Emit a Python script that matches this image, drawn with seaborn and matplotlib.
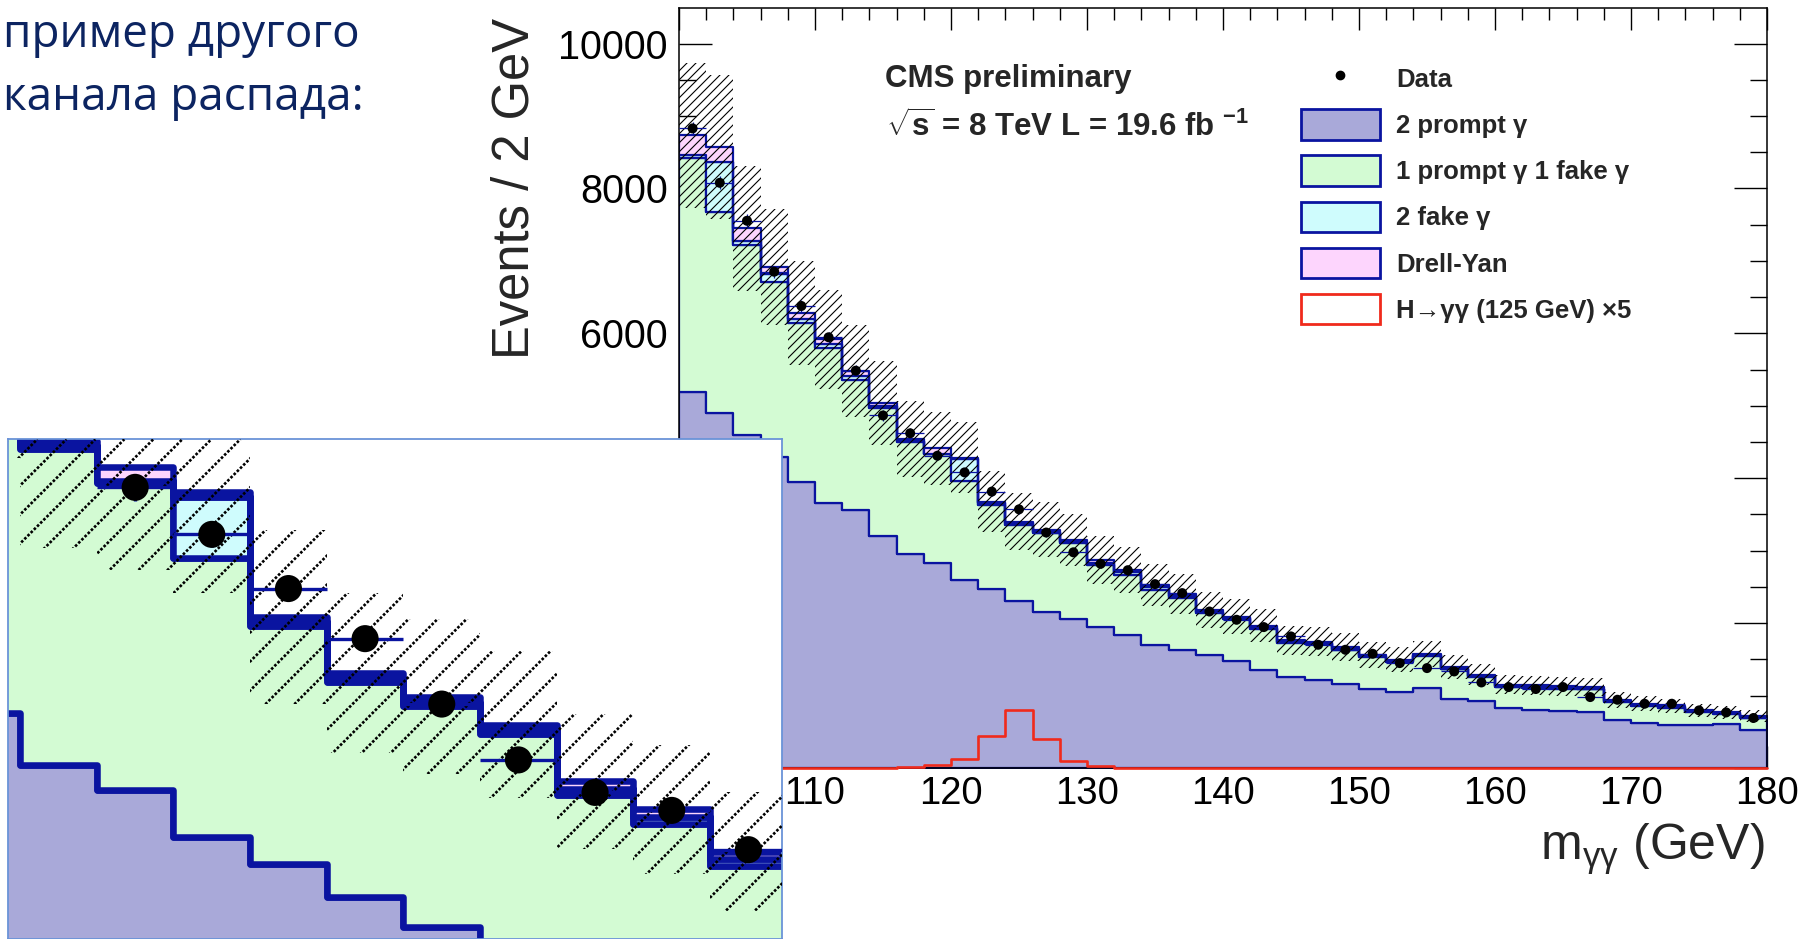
import numpy as np
import pandas as pd
import matplotlib
matplotlib.use("Agg")
import matplotlib.pyplot as plt
import seaborn as sns
from matplotlib.patches import Patch
from matplotlib.lines import Line2D
from matplotlib.collections import LineCollection
from matplotlib.ticker import MultipleLocator, FuncFormatter
from matplotlib.font_manager import FontProperties

sns.set_theme(style="white")
plt.rcParams["font.family"] = ["Liberation Sans", "DejaVu Sans"]
plt.rcParams["mathtext.fontset"] = "custom"
plt.rcParams["mathtext.rm"] = "Liberation Sans"
plt.rcParams["mathtext.bf"] = "Liberation Sans:bold"
plt.rcParams["mathtext.it"] = "Liberation Sans:italic"
plt.rcParams["mathtext.sf"] = "Liberation Sans"

# ---------------- data (m_gg bins of 2 GeV, 100-180 GeV) ----------------
BIN_EDGES = np.arange(100, 182, 2)
PROMPT2 = [5194, 4897, 4597, 4298, 3953, 3664, 3563, 3204, 2952, 2828,
           2600, 2470, 2308, 2160, 2055, 1940, 1839, 1692, 1622, 1563,
           1480, 1356, 1255, 1218, 1163, 1090, 1043, 1103, 952, 919,
           828, 795, 781, 767, 666, 621, 597, 597, 611, 528]
PROMPT1_FAKE1 = [3221, 2780, 2621, 2414, 2193, 2129, 1793, 1760, 1545, 1502,
                 1365, 1162, 1049, 1081, 1049, 864, 826, 767, 723, 580,
                 571, 567, 465, 488, 466, 441, 419, 442, 409, 336,
                 289, 313, 313, 318, 244, 241, 237, 173, 136, 168]
FAKE2 = [40, 682, 60, 107, 48, 54, 54, 30, 15, 10,
         300, 20, 20, 16, 20, 29, 35, 34, 25, 15,
         15, 15, 15, 15, 15, 12, 12, 12, 12, 12,
         12, 12, 12, 12, 12, 10, 10, 10, 10, 10]
DRELL_YAN = [280, 215, 170, 100, 90, 70, 70, 40, 25, 70,
             20, 25, 25, 30, 25, 40, 35, 35, 30, 25,
             25, 25, 25, 25, 25, 20, 20, 20, 20, 20,
             20, 20, 20, 20, 20, 15, 15, 15, 15, 15]
BKG_UNC = [1000, 990, 860, 800, 720, 680, 630, 580, 525, 505,
           490, 425, 390, 380, 360, 330, 315, 290, 275, 250,
           240, 225, 205, 200, 190, 180, 172, 180, 160, 148,
           132, 131, 130, 128, 108, 102, 99, 91, 89, 83]
DATA = [8828, 8077, 7553, 6850, 6377, 5945, 5484, 4866, 4620, 4310,
        4080, 3815, 3570, 3250, 2977, 2818, 2730, 2538, 2414, 2160,
        2046, 1945, 1816, 1701, 1632, 1577, 1448, 1379, 1333, 1181,
        1117, 1090, 1117, 979, 942, 887, 887, 795, 767, 690]
SIGNAL_X5 = [0, 0, 0, 0, 0, 0, 0, 0, 8, 40,
             128, 436, 806, 404, 91, 22, 0, 0, 0, 0,
             0, 0, 0, 0, 0, 0, 0, 0, 0, 0,
             0, 0, 0, 0, 0, 0, 0, 0, 0, 0]

COMPONENTS = ["2 prompt γ", "1 prompt γ 1 fake γ", "2 fake γ", "Drell-Yan"]
SIG_LABEL = "H→γγ (125 GeV) ×5"

# ---------------- styles ----------------
BLUE = "#0a14a0"
RED = "#f02a1c"
PALETTE = {"2 prompt γ": "#a9a9d9", "1 prompt γ 1 fake γ": "#d3fbd3",
           "2 fake γ": "#cffcfd", "Drell-Yan": "#fdd5fd"}

centers = BIN_EDGES[:-1] + 1.0
rows = []
for name, vals in zip(COMPONENTS, [PROMPT2, PROMPT1_FAKE1, FAKE2, DRELL_YAN]):
    for m, v in zip(centers, vals):
        rows.append({"mass": m, "events": v, "component": name})
df = pd.DataFrame(rows)
sig_df = pd.DataFrame({"mass": centers, "events": SIGNAL_X5})
total = (np.array(PROMPT2) + np.array(PROMPT1_FAKE1) + np.array(FAKE2)
         + np.array(DRELL_YAN)).astype(float)
unc = np.array(BKG_UNC, dtype=float)
data = np.array(DATA, dtype=float)

W, H = 1801, 939
fig = plt.figure(figsize=(W / 100, H / 100), dpi=100)
fig.patch.set_facecolor("white")


def fx(px):
    return px / W


def fy(py):
    return 1 - py / H


ax = fig.add_axes([fx(679), fy(768), (1767 - 679) / W, (768 - 8) / H])
axin = fig.add_axes([fx(8.3), 0.0, (781.7 - 8.3) / W, (939 - 439.3) / H])
axin.set_zorder(5)


def draw_hist(a, lw, hatch_px, hatch_lw, hatch_ls, ms, elw, sig_lw, main):
    sns.histplot(data=df, x="mass", weights="events", hue="component",
                 hue_order=COMPONENTS[::-1], multiple="stack",
                 binwidth=2, binrange=(100, 180),
                 element="step", fill=True, palette=PALETTE, edgecolor=BLUE,
                 linewidth=lw, alpha=1, legend=False, ax=a, zorder=1)
    # uncertainty band (hatched)
    lo = np.append(total - unc, total[-1] - unc[-1])
    hi = np.append(total + unc, total[-1] + unc[-1])
    band = a.fill_between(BIN_EDGES, lo, hi, step="post", facecolor="none",
                          edgecolor="none", linewidth=0, zorder=2)
    bb = a.get_position()
    wpx, hpx = bb.width * W, bb.height * H
    dx = hpx / wpx
    starts = np.arange(-dx, 1.0 + hatch_px / wpx, hatch_px / wpx)
    segs = [[(s, 0.0), (s + dx, 1.0)] for s in starts]
    lc = LineCollection(segs, colors="black", linewidths=hatch_lw,
                        linestyles=hatch_ls, transform=a.transAxes, zorder=3)
    lc.set_clip_path(band.get_paths()[0], a.transData)
    lc.set_clip_box(a.bbox)
    a.add_collection(lc, autolim=False)
    # signal x5
    nlines = len(a.lines)
    sns.histplot(data=sig_df, x="mass", weights="events", binwidth=2,
                 binrange=(100, 180), element="step", fill=False, color=RED,
                 linewidth=sig_lw, ax=a, zorder=4)
    if main:
        for ln in a.lines[nlines:]:
            ln.set_clip_on(False)
    # data
    a.errorbar(centers, data, xerr=1.0, yerr=np.sqrt(data), fmt="none",
               ecolor=BLUE, elinewidth=elw, capsize=0, zorder=5)
    sns.scatterplot(x=centers, y=data, color="black", s=ms ** 2,
                    edgecolor="none", ax=a, zorder=6, legend=False)


draw_hist(ax, 1.6, 9.0, 0.8, "solid", 7.2, 0.9, 1.9, True)
draw_hist(axin, 4.7, 29.0, 1.9, (0, (1.0, 0.7)), 19.5, 2.4, 5.0, False)

# main axes styling
ax.set_xlim(100, 180)
ax.set_ylim(0, 10490)
ax.set_xlabel("")
ax.set_ylabel("")
ax.set_facecolor("white")
ax.xaxis.set_major_locator(MultipleLocator(10))
ax.xaxis.set_minor_locator(MultipleLocator(2))
ax.yaxis.set_major_locator(MultipleLocator(2000))
ax.yaxis.set_minor_locator(MultipleLocator(500))
# labels that sit underneath the magnified inset are not shown
ax.xaxis.set_major_formatter(FuncFormatter(lambda v, p: "" if v < 105 else f"{v:.0f}"))
ax.yaxis.set_major_formatter(FuncFormatter(lambda v, p: "" if v < 5000 else f"{v:.0f}"))
ax.tick_params(axis="both", which="both", direction="in", top=True,
               right=True, bottom=True, left=True, colors="black")
ax.tick_params(axis="x", which="major", length=15.8, width=1.0,
               labelsize=27.5, pad=6)
ax.tick_params(axis="x", which="minor", length=8.4, width=1.0)
ax.tick_params(axis="y", which="major", length=23.8, width=1.0,
               labelsize=28.5, pad=8)
ax.tick_params(axis="y", which="minor", length=12.5, width=1.0)
for sp in ax.spines.values():
    sp.set_color("black")
    sp.set_linewidth(1.1)

# inset styling
axin.set_xlim(115.69, 135.87)
axin.set_ylim(2101, 4545)
axin.set_xticks([])
axin.set_yticks([])
axin.set_xlabel("")
axin.set_ylabel("")
axin.set_facecolor("white")
for sp in axin.spines.values():
    sp.set_color("#6a93d8")
    sp.set_linewidth(1.3)

# legend
handles = [Line2D([0], [0], marker="o", ls="none", color="black", markersize=6)]
labels = ["Data"]
for name in COMPONENTS:
    handles.append(Patch(facecolor=PALETTE[name], edgecolor=BLUE, linewidth=2.0))
    labels.append(name)
handles.append(Patch(facecolor="white", edgecolor=RED, linewidth=2.0))
labels.append(SIG_LABEL)
ax.legend(handles, labels, loc="upper left",
          bbox_to_anchor=(fx(1300.7), fy(63)), bbox_transform=fig.transFigure,
          frameon=False,
          prop=FontProperties(family=["Liberation Sans", "DejaVu Sans"],
                              weight="bold", size=18.5),
          handlelength=3.07, handleheight=1.45, handletextpad=0.65,
          labelspacing=0.61, borderpad=0, borderaxespad=0)

# texts
fig.text(fx(885), fy(86.7), "CMS preliminary", fontsize=22.5,
         fontweight="bold", ha="left", va="baseline")
fig.text(fx(886), fy(137),
         r"$\mathbf{\sqrt{s}}$ = 8 TeV L = 19.6 fb $^{\mathbf{-1}}$",
         fontsize=22.5, fontweight="bold", ha="left", va="baseline")
fig.text(fx(528), fy(188), "Events / 2 GeV", rotation=90,
         rotation_mode="anchor", ha="center", va="baseline", fontsize=36.5)
fig.text(fx(1765), fy(860), r"$\mathregular{m_{\gamma\gamma}}$ (GeV)",
         ha="right", va="baseline", fontsize=36)

SLIDE = "#0c2461"
fig.text(fx(3), fy(47), "пример другого", color=SLIDE, fontsize=33,
         family=["Open Sans", "DejaVu Sans"], ha="left", va="baseline")
fig.text(fx(3), fy(110), "канала распада:", color=SLIDE, fontsize=33,
         family=["Open Sans", "DejaVu Sans"], ha="left", va="baseline")

fig.savefig("out.png", dpi=100, facecolor="white")
